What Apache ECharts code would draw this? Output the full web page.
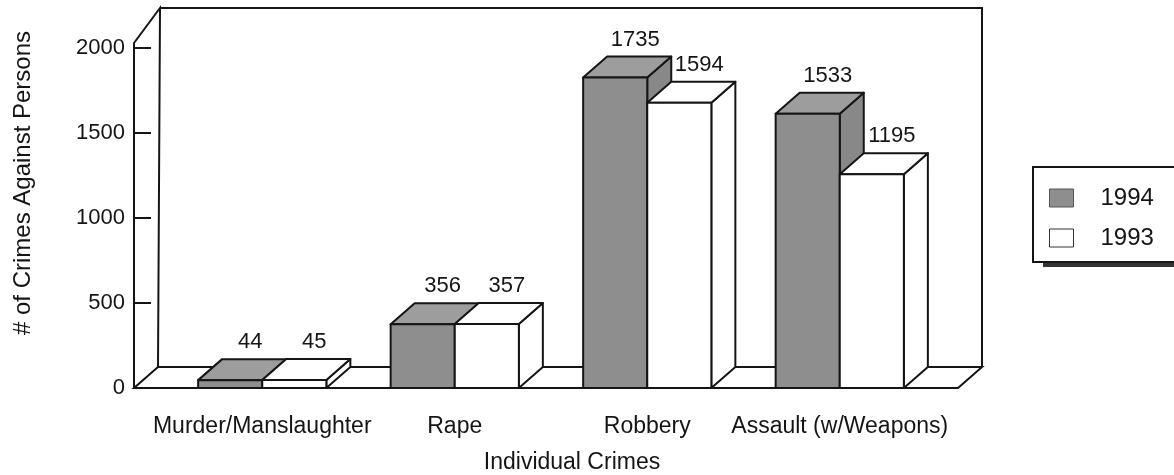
<!DOCTYPE html>
<html>
<head>
<meta charset="utf-8">
<title>Crimes Against Persons</title>
<script src="https://cdn.jsdelivr.net/npm/echarts@6/dist/echarts.min.js"></script>
<style>
  html, body { margin: 0; padding: 0; background: #fff; }
  #report { width: 1174px; height: 475px; }
</style>
</head>
<body>
<div id="report"></div>
<script>
// data
const categories = ['Murder/Manslaughter', 'Rape', 'Robbery', 'Assault (w/Weapons)']
const years = ['1994', '1993']
const values1994 = [44, 356, 1735, 1533]
const values1993 = [45, 357, 1594, 1195]

const FONT = "'Liberation Sans', Arial, Helvetica, sans-serif"
const INK = '#151515'

// box geometry (the 3d frame around the plot)
const BASE_Y = 388
const FRONT_X = 134
const FRONT_RIGHT = 958
const DX = 24
const DY = -21
const BAR_RATIO = 0.333

let faces = {
  '1994': { front: '#8e8e8e', top: '#9d9d9d', side: '#888888' },
  '1993': { front: '#ffffff', top: '#ffffff', side: '#ffffff' }
}

function renderBar (params, api) {
  let cat = api.value(0)
  let val = api.value(1)
  let base = api.coord([cat, 0])
  let top = api.coord([cat, val])
  let w = api.size([1, 0])[0] * BAR_RATIO
  let x0 = params.seriesIndex === 0 ? base[0] - w : base[0]
  let y0 = base[1]
  let y1 = top[1]
  let c = faces[years[params.seriesIndex]]
  let line = { stroke: INK, lineWidth: 2, lineJoin: 'round' }
  return {
    type: 'group',
    children: [
      {
        type: 'polygon',
        shape: { points: [[x0 + w, y1], [x0 + w + DX, y1 + DY], [x0 + w + DX, y0 + DY], [x0 + w, y0]] },
        style: Object.assign({ fill: c.side }, line)
      },
      {
        type: 'polygon',
        shape: { points: [[x0, y1], [x0 + DX, y1 + DY], [x0 + w + DX, y1 + DY], [x0 + w, y1]] },
        style: Object.assign({ fill: c.top }, line)
      },
      {
        type: 'rect',
        shape: { x: x0, y: y1, width: w, height: y0 - y1 },
        style: Object.assign({ fill: c.front }, line)
      },
      {
        type: 'text',
        x: x0 + w / 2 + 20,
        y: y1 - 38,
        style: {
          text: String(val),
          fontSize: 22,
          fontFamily: FONT,
          fill: INK,
          align: 'center',
          verticalAlign: 'middle'
        }
      }
    ]
  }
}

let frameLine = { stroke: INK, lineWidth: 2, fill: null }

let chart = echarts.init(document.getElementById('report'))
let option = {
  backgroundColor: '#fff',
  animation: false,
  grid: { left: 166, right: 238, top: 48, bottom: 87 },
  xAxis: {
    type: 'category',
    data: categories,
    axisLine: { show: false },
    axisTick: { show: false },
    axisLabel: { interval: 0, margin: 27, fontSize: 23, fontFamily: FONT, color: INK }
  },
  yAxis: [
    {
      type: 'value',
      min: 0,
      max: 2000,
      interval: 500,
      offset: 32,
      axisLine: { show: false },
      axisTick: { show: true, inside: true, length: 17, lineStyle: { color: INK, width: 2 } },
      axisLabel: {
        margin: 9,
        fontSize: 22,
        fontFamily: FONT,
        color: INK,
        formatter: (v) => String(v) // no thousands separator
      },
      splitLine: { show: false }
    },
    {
      // bars in the original sit a bit taller than the tick marks
      type: 'value',
      min: 0,
      max: 1900,
      show: false
    }
  ],
  legend: {
    orient: 'vertical',
    left: 1049,
    top: 186,
    padding: 0,
    itemGap: 16,
    itemWidth: 24,
    itemHeight: 18,
    icon: 'rect',
    selectedMode: false,
    textStyle: { fontSize: 24, fontFamily: FONT, color: INK, lineHeight: 24, padding: [0, 0, 0, 22] },
    data: [
      { name: '1994', itemStyle: { color: '#8e8e8e', borderColor: '#555', borderWidth: 1 } },
      { name: '1993', itemStyle: { color: '#fff', borderColor: '#333', borderWidth: 1 } }
    ]
  },
  graphic: [
    // floor
    {
      type: 'polygon',
      z: 1,
      shape: { points: [[FRONT_X, BASE_Y], [FRONT_RIGHT, BASE_Y], [FRONT_RIGHT + DX, BASE_Y + DY], [FRONT_X + DX, BASE_Y + DY]] },
      style: { fill: '#fff', stroke: INK, lineWidth: 2 }
    },
    // left wall
    {
      type: 'polyline',
      z: 1,
      shape: { points: [[FRONT_X, BASE_Y], [FRONT_X, 43], [FRONT_X + 26, 8], [FRONT_X + DX, BASE_Y + DY]] },
      style: frameLine
    },
    // back wall
    {
      type: 'polyline',
      z: 1,
      shape: { points: [[FRONT_X + 26, 8], [FRONT_RIGHT + DX, 8], [FRONT_RIGHT + DX, BASE_Y + DY]] },
      style: frameLine
    },
    // legend box with its drop shadow
    {
      type: 'rect',
      z: 1,
      shape: { x: 1043, y: 172, width: 200, height: 95 },
      style: { fill: '#333', stroke: null }
    },
    {
      type: 'rect',
      z: 1,
      shape: { x: 1033, y: 167, width: 200, height: 95 },
      style: { fill: '#fff', stroke: INK, lineWidth: 2 }
    },
    {
      type: 'text',
      x: 23,
      y: 183,
      rotation: Math.PI / 2,
      style: {
        text: '# of Crimes Against Persons',
        fontSize: 24,
        fontFamily: FONT,
        fill: INK,
        align: 'center',
        verticalAlign: 'middle'
      }
    },
    {
      type: 'text',
      x: 572,
      y: 463,
      style: {
        text: 'Individual Crimes',
        fontSize: 23,
        fontFamily: FONT,
        fill: INK,
        align: 'center',
        verticalAlign: 'middle'
      }
    }
  ],
  series: [
    {
      name: '1994',
      type: 'custom',
      yAxisIndex: 1,
      itemStyle: { color: '#8e8e8e' },
      renderItem: renderBar,
      encode: { x: 0, y: 1 },
      data: values1994.map((v, i) => [i, v])
    },
    {
      name: '1993',
      type: 'custom',
      yAxisIndex: 1,
      itemStyle: { color: '#fff' },
      renderItem: renderBar,
      encode: { x: 0, y: 1 },
      data: values1993.map((v, i) => [i, v])
    }
  ]
}
chart.setOption(option)
</script>
</body>
</html>
